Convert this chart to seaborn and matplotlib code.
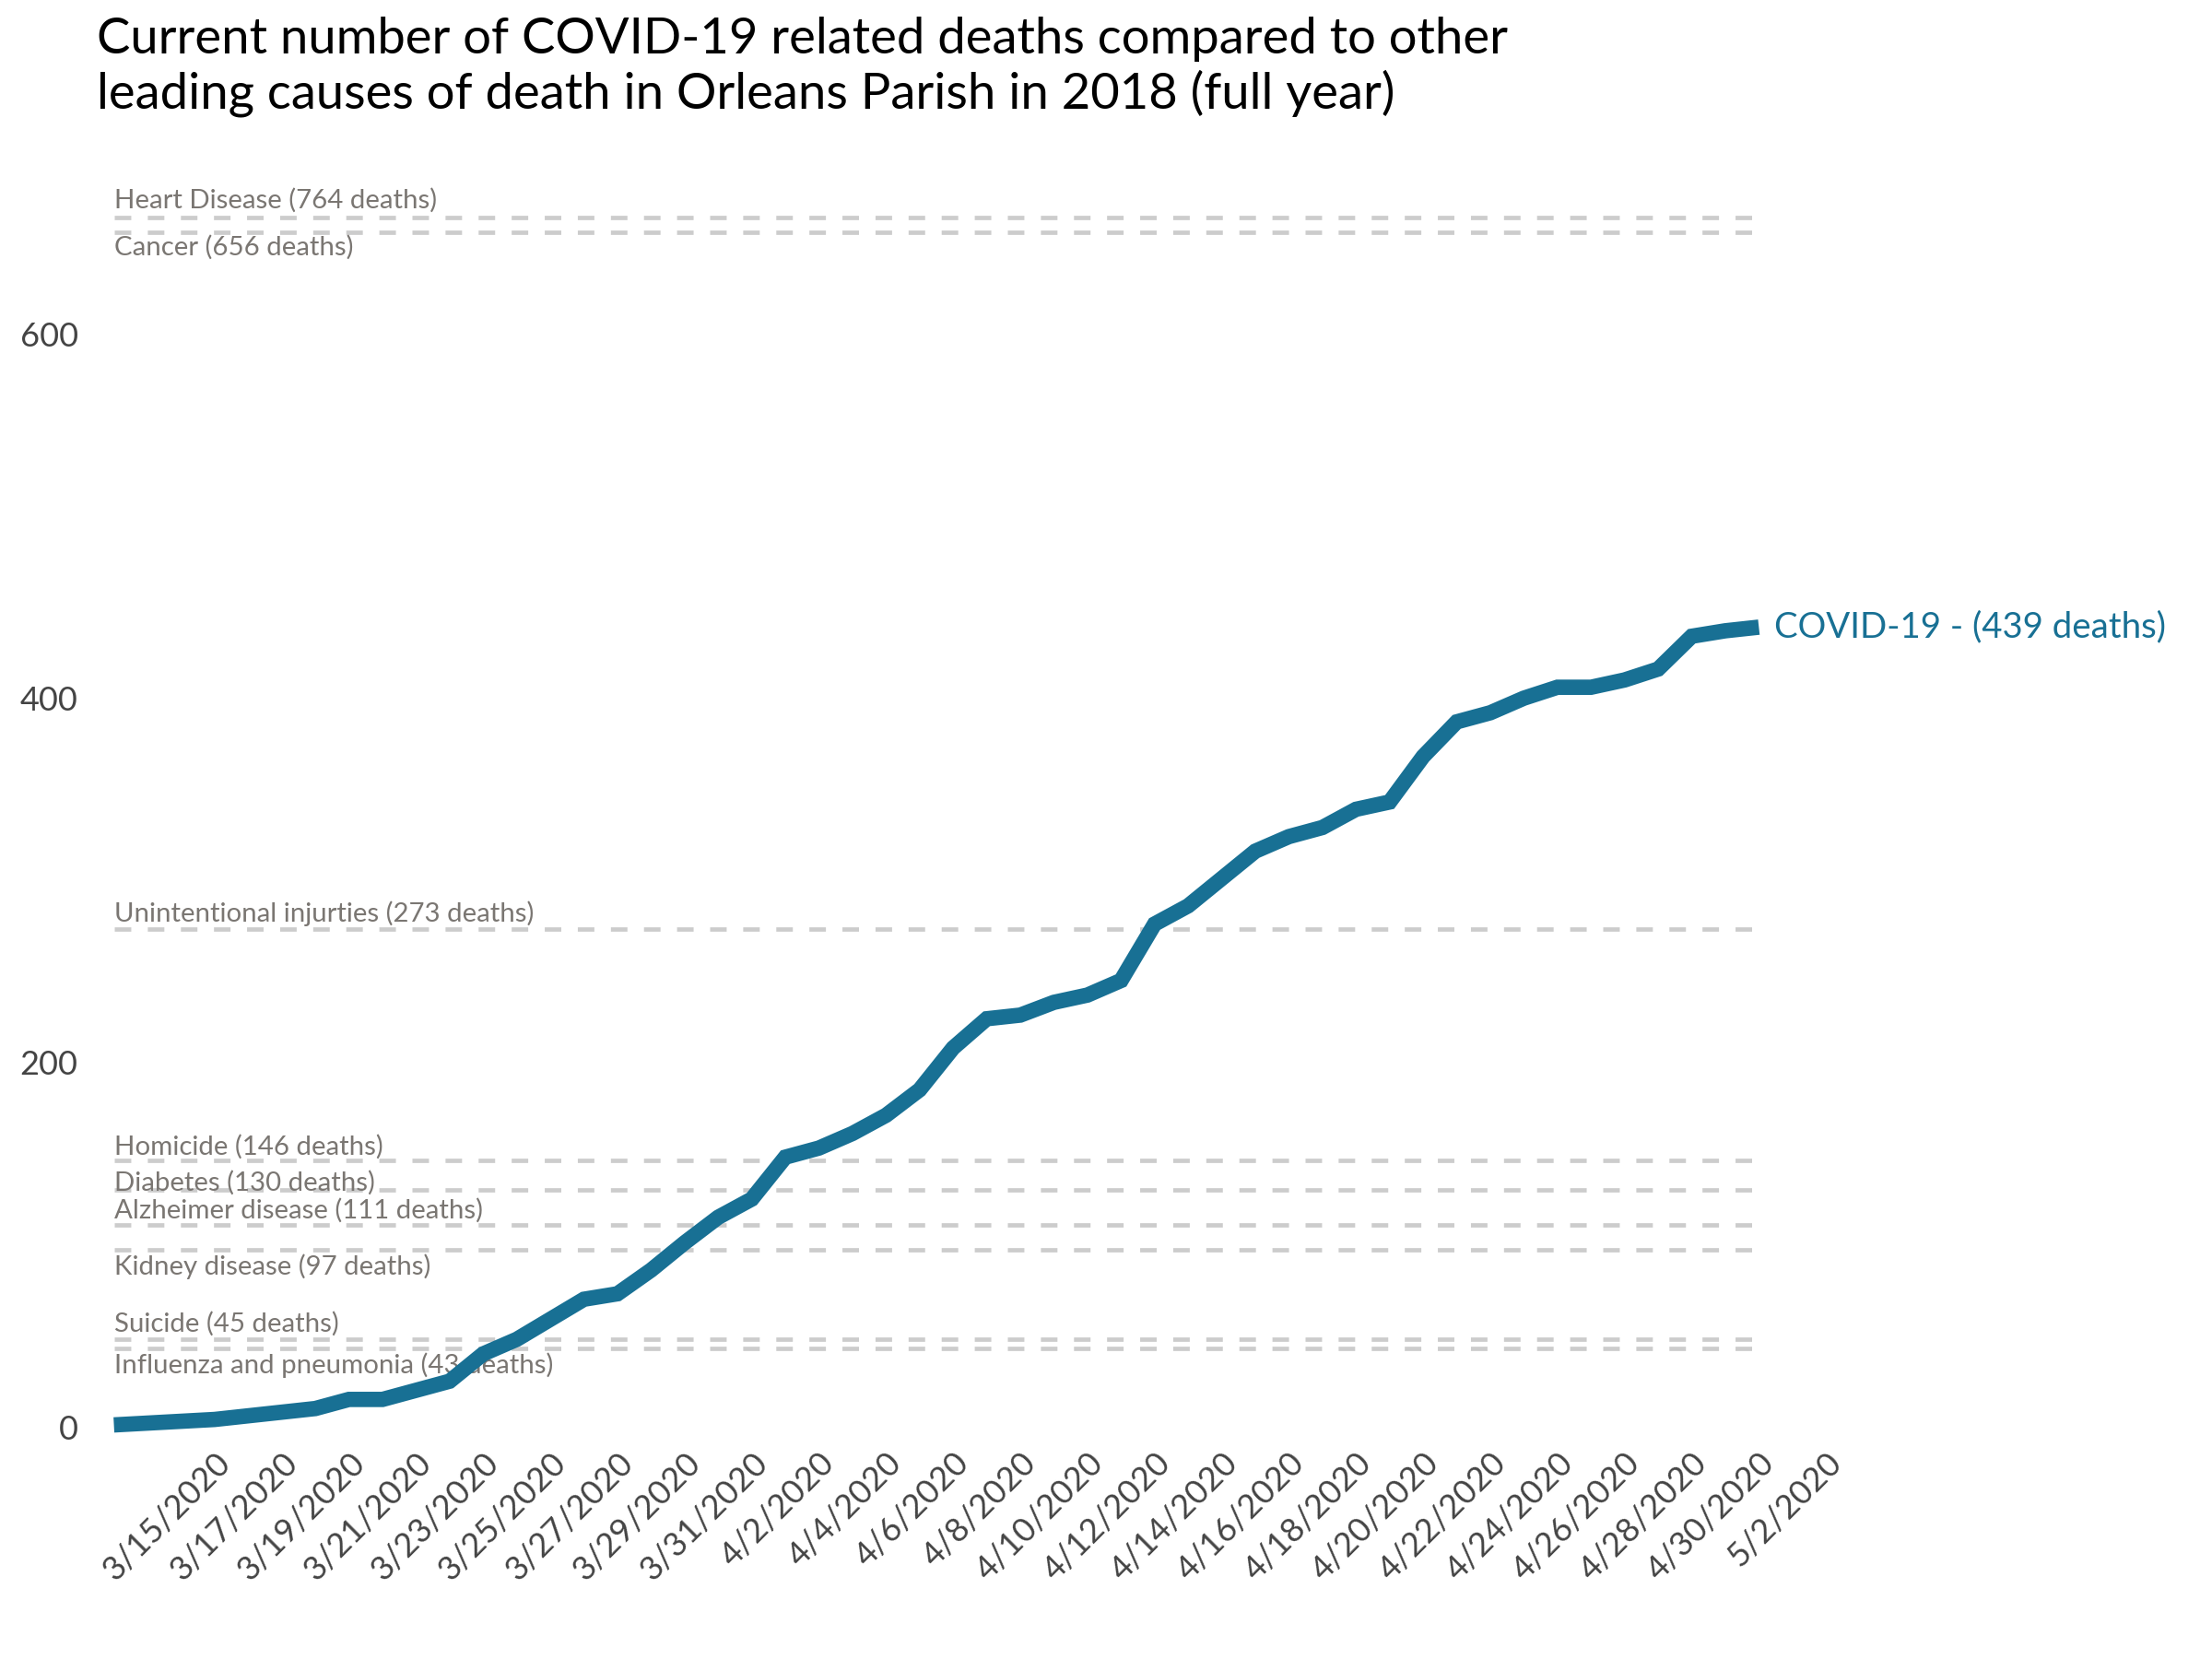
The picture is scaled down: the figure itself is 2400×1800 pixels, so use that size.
import matplotlib
matplotlib.use("Agg")
import matplotlib.pyplot as plt
import pandas as pd
import seaborn as sns

sns.set_theme(style="white")
plt.rcParams["font.family"] = ["Lato", "DejaVu Sans"]

# cumulative COVID-19 deaths, 3/12/2020 .. 4/30/2020
covid_deaths = [1, 2, 3, 4, 6, 8, 10, 15, 15, 20,
                25, 40, 48, 59, 70, 73, 86, 101, 115, 125,
                148, 153, 161, 171, 185, 208, 224, 226, 233, 237,
                245, 276, 286, 301, 316, 324, 329, 339, 343, 368,
                387, 392, 400, 406, 406, 410, 416, 434, 437, 439]
dates = pd.date_range("2020-03-12", "2020-04-30", freq="D")

causes = ["Heart Disease", "Cancer", "Unintentional injurties", "Homicide",
          "Diabetes", "Alzheimer disease", "Kidney disease", "Suicide",
          "Influenza and pneumonia"]
cause_deaths = [764, 656, 273, 146, 130, 111, 97, 45, 43]
# where each dashed line sits on the chart's y scale
line_levels = [664, 656, 273, 146, 130, 111, 97, 48, 43]
# label offset from its line, in points (+ above, - below)
label_offsets = [6.6, -6.1, 6.1, 5.5, 2.8, 5.5, -6.6, 6.1, -6.6]

tick_dates = pd.date_range("2020-03-15", "2020-05-02", freq="2D")
tick_labels = [f"{d.month}/{d.day}/{d.year}" for d in tick_dates]

BLUE = "#187094"

df = pd.DataFrame({"date": dates, "deaths": covid_deaths})

fig = plt.figure(figsize=(12, 9), dpi=200)
ax = fig.add_axes([0.0515, 0.1400, 0.7740, 0.7290])

for lvl, name, n, off in zip(line_levels, causes, cause_deaths, label_offsets):
    ax.hlines(lvl, dates[0], dates[-1], colors="#cccccc", linewidth=1.7,
              linestyles=(0, (3.8, 3.8)), clip_on=False, zorder=1)
    ax.annotate(f"{name} ({n} deaths)", xy=(dates[0], lvl), xytext=(0, off),
                textcoords="offset points", ha="left", va="center",
                fontsize=10.6, color="#7a7672", annotation_clip=False, zorder=2)

sns.lineplot(data=df, x="date", y="deaths", ax=ax, color=BLUE, linewidth=6,
             solid_capstyle="butt", solid_joinstyle="miter", clip_on=False, zorder=3)

ax.annotate(f"COVID-19 - ({covid_deaths[-1]} deaths)", xy=(dates[-1], covid_deaths[-1]),
            xytext=(6, 0), textcoords="offset points", ha="left", va="center",
            fontsize=13.8, color=BLUE, annotation_clip=False)

ax.set_xlim(dates[0], pd.Timestamp("2020-05-02"))
ax.set_ylim(0, 664)
ax.set_yticks([0, 200, 400, 600])
ax.set_xticks(tick_dates)
ax.set_xticklabels(tick_labels, rotation=45, ha="right", rotation_mode="anchor")
ax.tick_params(axis="both", length=0, labelsize=13, labelcolor="#444444")
ax.tick_params(axis="y", pad=14)
ax.tick_params(axis="x", pad=8)
ax.set_xlabel("")
ax.set_ylabel("")
sns.despine(ax=ax, left=True, bottom=True)
ax.grid(False)

fig.text(0.0436, 0.990, "Current number of COVID-19 related deaths compared to other\n"
         "leading causes of death in Orleans Parish in 2018 (full year)",
         ha="left", va="top", fontsize=19.6, color="black", linespacing=1.2)

fig.savefig("out.png", dpi=200)
